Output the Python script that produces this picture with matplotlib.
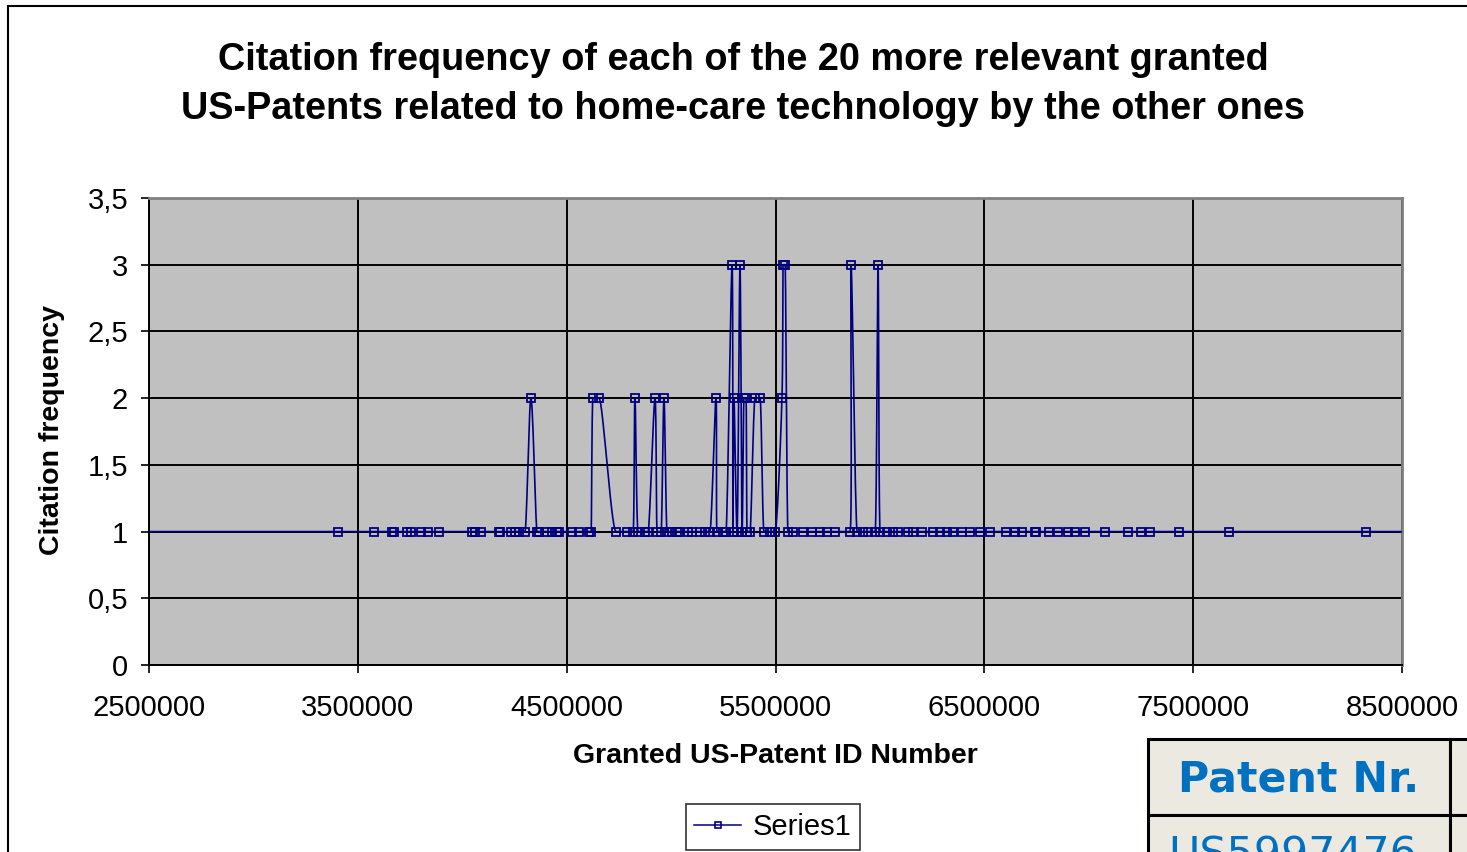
import numpy as np
import matplotlib.pyplot as plt
from matplotlib.patches import Rectangle


# patent ID numbers (x) and how often each one is cited (y)
patent_ids = [
    2300000, 3405000, 3577000, 3664000, 3673000, 3735000, 3755000, 3802000,
    3836000, 3889000, 4047000, 4061000, 4090000, 4176000, 4181000, 4233000,
    4253000, 4272000, 4300000, 4329000, 4358000, 4368000, 4406000, 4430000,
    4454000, 4463000, 4526000, 4559000, 4607000, 4617000, 4626000, 4655000,
    4736000, 4789000, 4818000, 4827000, 4842000, 4875000, 4890000, 4923000,
    4933000, 4952000, 4966000, 4981000, 5004000, 5028000, 5038000, 5081000,
    5100000, 5139000, 5162000, 5186000, 5215000, 5220000, 5249000, 5263000,
    5292000, 5296000, 5301000, 5316000, 5330000, 5340000, 5349000, 5359000,
    5364000, 5378000, 5402000, 5426000, 5445000, 5474000, 5498000, 5531000,
    5536000, 5546000, 5560000, 5584000, 5632000, 5675000, 5713000, 5747000,
    5786000, 5857000, 5862000, 5891000, 5919000, 5943000, 5977000, 5991000,
    6001000, 6034000, 6063000, 6087000, 6135000, 6159000, 6202000, 6254000,
    6288000, 6321000, 6350000, 6393000, 6431000, 6479000, 6527000, 6604000,
    6647000, 6680000, 6743000, 6748000, 6810000, 6853000, 6901000, 6934000,
    6982000, 7078000, 7188000, 7250000, 7293000, 7432000, 7672000, 8328000,
    8700000,
]
citations = [
    1, 1, 1, 1, 1, 1, 1, 1,
    1, 1, 1, 1, 1, 1, 1, 1,
    1, 1, 1, 2, 1, 1, 1, 1,
    1, 1, 1, 1, 1, 1, 2, 2,
    1, 1, 1, 2, 1, 1, 1, 2,
    1, 1, 2, 1, 1, 1, 1, 1,
    1, 1, 1, 1, 2, 1, 1, 1,
    3, 1, 2, 1, 3, 1, 2, 2,
    1, 1, 2, 2, 1, 1, 1, 2,
    3, 3, 1, 1, 1, 1, 1, 1,
    1, 1, 3, 1, 1, 1, 1, 3,
    1, 1, 1, 1, 1, 1, 1, 1,
    1, 1, 1, 1, 1, 1, 1, 1,
    1, 1, 1, 1, 1, 1, 1, 1,
    1, 1, 1, 1, 1, 1, 1, 1,
    1,
]

x_ticks = [2500000, 3500000, 4500000, 5500000, 6500000, 7500000, 8500000]
y_ticks = [0, 0.5, 1, 1.5, 2, 2.5, 3, 3.5]
y_tick_labels = ["0", "0,5", "1", "1,5", "2", "2,5", "3", "3,5"]

title_lines = [
    "Citation frequency of each of the 20 more relevant granted",
    "US-Patents related to home-care technology by the other ones",
]
x_label = "Granted US-Patent ID Number"
y_label = "Citation frequency"
series_name = "Series1"
table_header = "Patent Nr."
table_first_row = "US5997476"

W, H = 1467, 852
NAVY = "#000080"


def fx(px):
    return px / W


def fy(py):
    return 1 - py / H


def smooth_curve(xs, ys, steps=16):
    # smoothed line like excel: catmull-rom beziers, y tangent flattened
    # at local extremes / flat stretches so it doesn't overshoot much
    pts = np.column_stack([xs, ys]).astype(float)
    ext = np.vstack([pts[0], pts, pts[-1]])
    tang = (ext[2:] - ext[:-2]) / 6.0
    dy_prev = ext[1:-1, 1] - ext[:-2, 1]
    dy_next = ext[2:, 1] - ext[1:-1, 1]
    tang[dy_prev * dy_next <= 0, 1] = 0.0
    t = np.linspace(0, 1, steps)[:, None]
    out = []
    for i in range(len(pts) - 1):
        p1, p2 = pts[i], pts[i + 1]
        c1 = p1 + tang[i]
        c2 = p2 - tang[i + 1]
        seg = ((1 - t) ** 3) * p1 + 3 * ((1 - t) ** 2) * t * c1 \
            + 3 * (1 - t) * t ** 2 * c2 + t ** 3 * p2
        out.append(seg)
    curve = np.vstack(out)
    return curve[:, 0], curve[:, 1]


plt.rcParams['font.family'] = ['Liberation Sans', 'DejaVu Sans']

fig = plt.figure(figsize=(W / 100, H / 100), dpi=100)
ax = fig.add_axes([fx(149), fy(665), fx(1402) - fx(149), fy(198) - fy(665)])
ax.set_facecolor("#C0C0C0")

sx, sy = smooth_curve(patent_ids, citations)
ax.plot(sx, sy, color=NAVY, lw=1.2, zorder=3)
ax.plot(patent_ids, citations, ls="none", marker="s", ms=5.5, mfc="none",
        mec=NAVY, mew=1.3, zorder=4)

ax.set_xlim(2500000, 8500000)
ax.set_ylim(0, 3.5)
ax.set_xticks(x_ticks)
ax.set_xticklabels([str(v) for v in x_ticks])
ax.set_yticks(y_ticks)
ax.set_yticklabels(y_tick_labels)
ax.grid(True, color="black", lw=1.4)
ax.set_axisbelow(True)
ax.tick_params(direction="out", length=6, width=1.2, labelsize=21, colors="black")
ax.tick_params(axis="x", pad=15)
ax.tick_params(axis="y", pad=9)
for side in ["left", "bottom"]:
    ax.spines[side].set_color("black")
    ax.spines[side].set_linewidth(1.4)
for side in ["top", "right"]:
    ax.spines[side].set_color("#808080")
    ax.spines[side].set_linewidth(2)

# chart area border
fig.add_artist(Rectangle((fx(8), -0.1), 1.2, fy(6) + 0.1, transform=fig.transFigure,
                         fill=False, ec="black", lw=1.5))

for i, line in enumerate(title_lines):
    fig.text(fx(743), fy(60 + 49 * i), line, ha="center", va="center",
             fontsize=27.3, weight="bold")

fig.text(fx(775), fy(756), x_label, ha="center", va="center", fontsize=20.5, weight="bold")
fig.text(fx(52), fy(430), y_label, ha="center", va="center", fontsize=20.5,
         weight="bold", rotation=90)

handle, = ax.plot([], [], color=NAVY, lw=1.1, marker="s", ms=4, mfc="none", mec=NAVY, mew=1.2)
leg = fig.legend([handle], [series_name], loc="center",
                 bbox_to_anchor=(fx(773), fy(827)), fontsize=21, fancybox=False,
                 handlelength=1.6, handletextpad=0.4, borderpad=0.3)
leg.get_frame().set_edgecolor("black")
leg.get_frame().set_linewidth(1.2)

# piece of a table overlapping the bottom right corner
cell_bg = "#ECE9E0"
for (x0, y0, x1, y1) in [(1148, 739, 1450, 815), (1450, 739, 1500, 815),
                         (1148, 815, 1450, 900), (1450, 815, 1500, 900)]:
    fig.add_artist(Rectangle((fx(x0), fy(y1)), fx(x1) - fx(x0), fy(y0) - fy(y1),
                             transform=fig.transFigure, fc=cell_bg, ec="black", lw=2.2))
fig.text(fx(1299), fy(779), table_header, ha="center", va="center", fontsize=30.8,
         weight="bold", color="#0070C0", family="DejaVu Sans")
fig.text(fx(1168), fy(868), table_first_row, ha="left", va="baseline", fontsize=30.8,
         color="#0070C0", family="DejaVu Sans")

fig.savefig("out.png", dpi=100)
